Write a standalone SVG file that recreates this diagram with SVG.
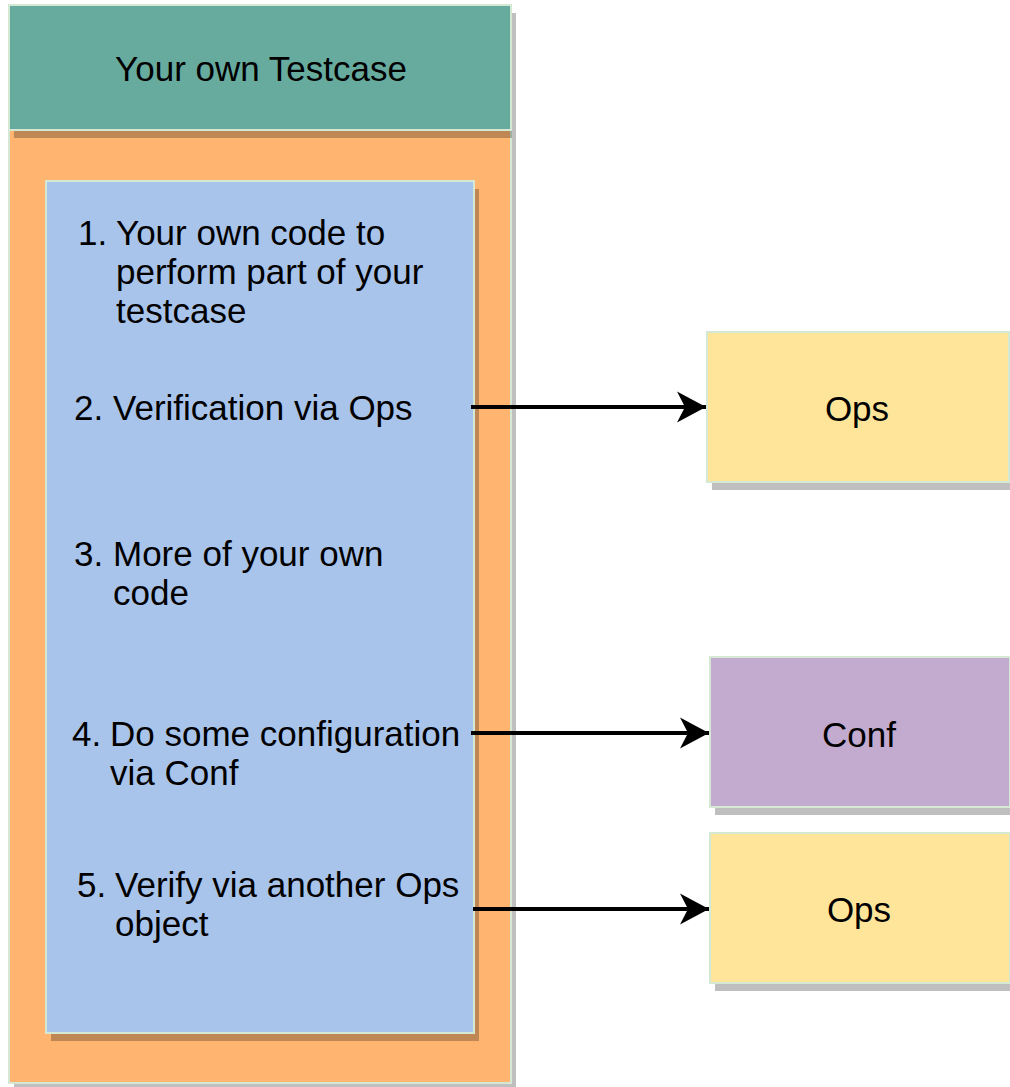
<svg xmlns="http://www.w3.org/2000/svg" width="1010" height="1087" viewBox="0 0 1010 1087">
  <style>
    .box { stroke: #D5E8D4; stroke-width: 2; }
    .shadow { fill: #000000; fill-opacity: 0.25; }
    .label { font-family: "Liberation Sans", Arial, sans-serif; font-size: 35px; fill: #000000; }
    .mid { text-anchor: middle; }
    .conn { stroke: #000000; stroke-width: 4; fill: none; }
  </style>
  <defs>
    <marker id="arrow" markerUnits="userSpaceOnUse" markerWidth="32" markerHeight="34" refX="30" refY="17" orient="auto">
      <path d="M30,17 L1,1.5 L9,17 L1,32.5 Z" fill="#000000"/>
    </marker>
  </defs>
  <rect width="1010" height="1087" fill="#FFFFFF"/>

  <!-- Testcase container body -->
  <g id="testcase-body">
    <rect class="shadow" x="14" y="138" width="502" height="953"/>
    <rect class="box" x="9" y="130" width="502" height="953" fill="#FFB570"/>
  </g>

  <!-- Testcase title bar -->
  <g id="testcase-title">
    <rect class="shadow" x="14" y="13" width="502" height="125"/>
    <rect class="box" x="9" y="5" width="502" height="125" fill="#67AB9F"/>
    <text class="label mid" x="261" y="81">Your own Testcase</text>
  </g>

  <!-- Steps list -->
  <g id="steps">
    <rect class="shadow" x="51" y="189" width="428" height="852"/>
    <rect class="box" x="46" y="181" width="428" height="852" fill="#A9C4EB"/>
    <text class="label" x="78" y="245">1.</text>
    <text class="label" x="116" y="245">Your own code to</text>
    <text class="label" x="116" y="284">perform part of your</text>
    <text class="label" x="116" y="323">testcase</text>

    <text class="label" x="74" y="420">2.</text>
    <text class="label" x="113" y="420">Verification via Ops</text>

    <text class="label" x="74" y="566">3.</text>
    <text class="label" x="113" y="566">More of your own</text>
    <text class="label" x="113" y="605">code</text>

    <text class="label" x="72" y="746">4.</text>
    <text class="label" x="110" y="746">Do some configuration</text>
    <text class="label" x="110" y="785">via Conf</text>

    <text class="label" x="77" y="897">5.</text>
    <text class="label" x="115" y="897">Verify via another Ops</text>
    <text class="label" x="115" y="936">object</text>
  </g>

  <!-- Ops (first) -->
  <g id="ops-1">
    <rect class="shadow" x="712" y="340" width="302" height="150"/>
    <rect class="box" x="707" y="332" width="302" height="150" fill="#FFE599"/>
    <text class="label mid" x="857" y="421">Ops</text>
  </g>

  <!-- Conf -->
  <g id="conf">
    <rect class="shadow" x="715" y="665" width="300" height="150"/>
    <rect class="box" x="710" y="657" width="300" height="150" fill="#C3ABD0"/>
    <text class="label mid" x="859" y="747">Conf</text>
  </g>

  <!-- Ops (second) -->
  <g id="ops-2">
    <rect class="shadow" x="715" y="841" width="300" height="150"/>
    <rect class="box" x="710" y="833" width="300" height="150" fill="#FFE599"/>
    <text class="label mid" x="859" y="922">Ops</text>
  </g>

  <!-- Connectors -->
  <g id="connectors">
    <line class="conn" x1="471" y1="407" x2="706" y2="407" marker-end="url(#arrow)"/>
    <line class="conn" x1="471" y1="733" x2="709" y2="733" marker-end="url(#arrow)"/>
    <line class="conn" x1="473" y1="909" x2="709" y2="909" marker-end="url(#arrow)"/>
  </g>
</svg>
